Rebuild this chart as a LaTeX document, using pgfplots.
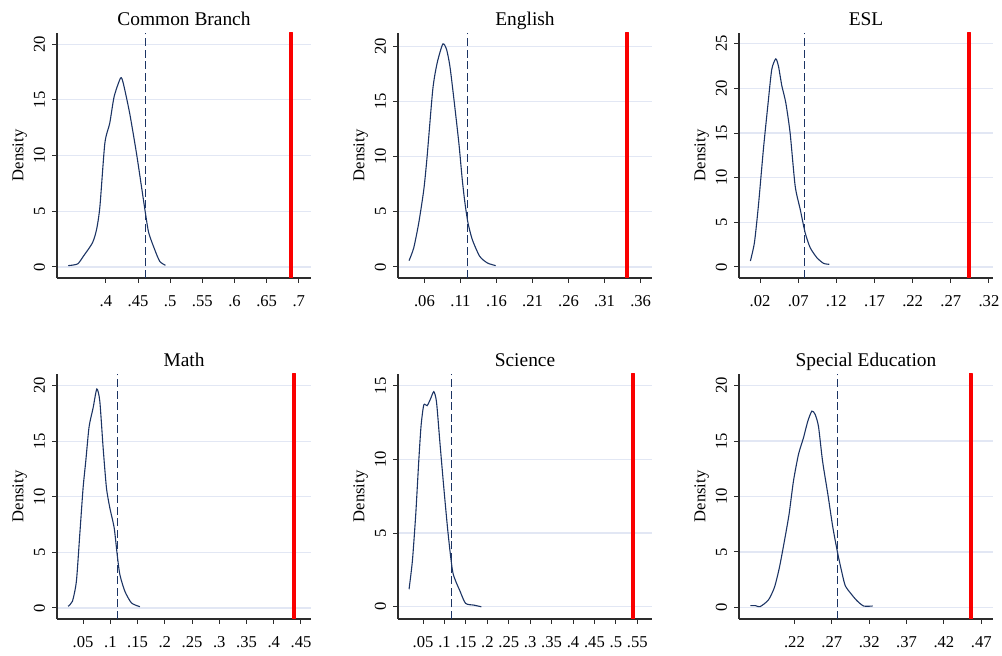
\documentclass[border=0pt]{standalone}
\usepackage{fontspec}
\setmainfont{Liberation Serif}
\usepackage{pgfplots}
\pgfplotsset{compat=1.18}

\definecolor{cNavy}{RGB}{28,52,100}
\definecolor{cGrid}{RGB}{226,231,244}
\definecolor{cAxis}{RGB}{45,45,45}
\definecolor{cRed}{RGB}{250,0,0}

\pgfplotsset{
  panel/.style={
    scale only axis, width=127pt, height=122.5pt, anchor=south west,
    axis lines=left, axis line style={-, cAxis, line width=0.6pt},
    tick align=outside, major tick length=2.5pt,
    tick style={cAxis, line width=0.5pt},
    ymajorgrids, major grid style={cGrid, line width=0.6pt},
    /pgf/number format/assume math mode=true,
    tick label style={font=\fontsize{8.3}{10}\selectfont},
    xticklabel style={yshift=-2.7pt},
    yticklabel style={rotate=90, anchor=south},
    label style={font=\fontsize{8.3}{10}\selectfont},
    ylabel shift=-3.5pt,
    title style={font=\fontsize{9.7}{11.6}\selectfont, at={(0.5,1)}, anchor=base, yshift=-2.5pt},
    ylabel={Density},
  },
  dens/.style={cNavy, line width=0.55pt, no marks, smooth, tension=0.4},
  obs/.style={cNavy, line width=0.6pt, dash pattern=on 4pt off 1.8pt},
  act/.style={cRed, line width=2pt, line cap=round},
}

\begin{document}
\begin{tikzpicture}
\path[use as bounding box] (0,0) rectangle (501pt,328pt);

% Common Branch
\begin{axis}[panel, at={(28.5pt,189pt)}, title={Common Branch},
  xmin=0.324, xmax=0.719, ymin=-0.99, ymax=21.0,
  xtick={0.4,0.45,0.5,0.55,0.6,0.65,0.7},
  xticklabels={.4,.45,.5,.55,.6,.65,.7}, ytick={0,5,10,15,20}]
\addplot[dens] coordinates {
  (0.3415,0.12) (0.356,0.27) (0.365,0.96) (0.379,2.15) (0.3855,3.35)
  (0.3907,5.4) (0.3984,11.1) (0.406,12.9) (0.4129,15.3) (0.4228,16.95)
  (0.427,16.5) (0.437,13.8) (0.4476,10.2) (0.4554,7.2) (0.4616,4.8)
  (0.4667,3.05) (0.476,1.55) (0.4838,0.5) (0.4926,0.15)};
\addplot[obs] coordinates {(0.462,-0.99) (0.462,21.0)};
\addplot[act] coordinates {(0.688,-0.99) (0.688,21.0)};
\end{axis}

% English
\begin{axis}[panel, at={(199pt,189pt)}, title={English},
  xmin=0.0233, xmax=0.3758, ymin=-1.0, ymax=21.2,
  xtick={0.06,0.11,0.16,0.21,0.26,0.31,0.36},
  xticklabels={.06,.11,.16,.21,.26,.31,.36}, ytick={0,5,10,15,20}]
\addplot[dens] coordinates {
  (0.0386,0.57) (0.0451,1.72) (0.0521,3.99) (0.0591,7.0) (0.0637,10.0)
  (0.0716,16.1) (0.0777,18.5) (0.0855,20.2) (0.0907,19.7) (0.0953,18.2)
  (0.1009,15.2) (0.1078,11.2) (0.1125,7.9) (0.1162,5.8) (0.1204,4.0)
  (0.1264,2.48) (0.1366,0.97) (0.1473,0.36) (0.1589,0.12)};
\addplot[obs] coordinates {(0.1195,-1.0) (0.1195,21.2)};
\addplot[act] coordinates {(0.341,-1.0) (0.341,21.2)};
\end{axis}

% ESL
\begin{axis}[panel, at={(369.5pt,189pt)}, title={ESL},
  xmin=-0.0076, xmax=0.3253, ymin=-1.23, ymax=26.2,
  xtick={0.02,0.07,0.12,0.17,0.22,0.27,0.32},
  xticklabels={.02,.07,.12,.17,.22,.27,.32}, ytick={0,5,10,15,20,25}]
\addplot[dens] coordinates {
  (0.0073,0.67) (0.0126,2.72) (0.0178,6.83) (0.0244,13.2) (0.0301,18.0)
  (0.0353,22.1) (0.0406,23.3) (0.0441,22.5) (0.0485,20.3) (0.0537,18.4)
  (0.0594,15.0) (0.066,9.07) (0.0726,6.46) (0.0791,3.84) (0.0857,2.16)
  (0.0945,1.04) (0.1032,0.41) (0.1107,0.3)};
\addplot[obs] coordinates {(0.0783,-1.23) (0.0783,26.2)};
\addplot[act] coordinates {(0.2938,-1.23) (0.2938,26.2)};
\end{axis}

% Math
\begin{axis}[panel, at={(28.5pt,18.5pt)}, title={Math},
  xmin=0.0021, xmax=0.4684, ymin=-0.99, ymax=21.05,
  xtick={0.05,0.1,0.15,0.2,0.25,0.3,0.35,0.4,0.45},
  xticklabels={.05,.1,.15,.2,.25,.3,.35,.4,.45}, ytick={0,5,10,15,20}]
\addplot[dens] coordinates {
  (0.0224,0.15) (0.0304,0.6) (0.0377,2.4) (0.0439,6.6) (0.05,10.8)
  (0.0549,13.2) (0.061,16.3) (0.0684,18.0) (0.0752,19.7) (0.0807,18.6)
  (0.0868,14.4) (0.0929,10.8) (0.0991,9.0) (0.1071,7.2) (0.1126,4.8)
  (0.1175,3.0) (0.1267,1.5) (0.1389,0.45) (0.1543,0.12)};
\addplot[obs] coordinates {(0.1126,-0.99) (0.1126,21.05)};
\addplot[act] coordinates {(0.4371,-0.99) (0.4371,21.05)};
\end{axis}

% Science
\begin{axis}[panel, at={(199pt,18.5pt)}, title={Science},
  xmin=-0.0086, xmax=0.5844, ymin=-0.83, ymax=15.8,
  xtick={0.05,0.1,0.15,0.2,0.25,0.3,0.35,0.4,0.45,0.5,0.55},
  xticklabels={.05,.1,.15,.2,.25,.3,.35,.4,.45,.5,.55}, ytick={0,5,10,15}]
\addplot[dens] coordinates {
  (0.0172,1.19) (0.025,3.11) (0.0328,6.26) (0.0398,9.86) (0.0453,12.3)
  (0.0516,13.7) (0.0594,13.65) (0.0672,14.1) (0.075,14.6) (0.0813,13.9)
  (0.0891,11.2) (0.0984,8.06) (0.1086,4.9) (0.1195,2.32) (0.1359,1.08)
  (0.1492,0.23) (0.1688,0.11) (0.1859,0.0)};
\addplot[obs] coordinates {(0.1156,-0.83) (0.1156,15.8)};
\addplot[act] coordinates {(0.5398,-0.83) (0.5398,15.8)};
\end{axis}

% Special Education
\begin{axis}[panel, at={(369.5pt,18.5pt)}, title={Special Education},
  xmin=0.1458, xmax=0.4857, ymin=-1.05, ymax=21.05,
  xtick={0.22,0.27,0.32,0.37,0.42,0.47},
  xticklabels={.22,.27,.32,.37,.42,.47}, ytick={0,5,10,15,20}]
\addplot[dens] coordinates {
  (0.161,0.15) (0.1681,0.15) (0.1739,0.06) (0.1851,0.66) (0.1932,1.8)
  (0.1999,3.6) (0.2066,6.0) (0.2128,8.4) (0.2187,11.4) (0.2254,13.8)
  (0.2321,15.3) (0.2379,16.8) (0.2433,17.7) (0.2477,17.4) (0.2522,16.3)
  (0.2576,13.2) (0.2647,10.2) (0.2714,7.2) (0.2781,4.8) (0.2835,3.14)
  (0.288,1.95) (0.296,1.2) (0.3036,0.6) (0.3126,0.12) (0.3247,0.12)};
\addplot[obs] coordinates {(0.2781,-1.05) (0.2781,21.05)};
\addplot[act] coordinates {(0.4557,-1.05) (0.4557,21.05)};
\end{axis}
\end{tikzpicture}
\end{document}
